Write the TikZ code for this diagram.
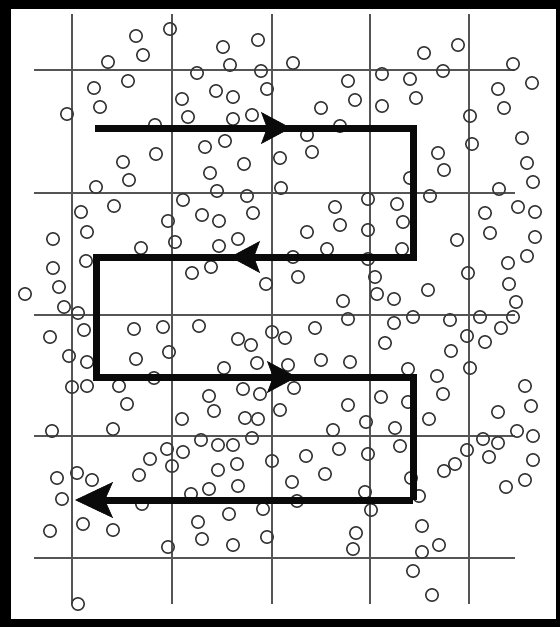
\documentclass[tikz,border=0pt]{standalone}
\usepackage{tikz}
\usetikzlibrary{arrows.meta}
\definecolor{Ink}{HTML}{0A0A0A}
\definecolor{Grid}{HTML}{555555}
\definecolor{Dot}{HTML}{383838}
\tikzset{
  gridline/.style={draw=Grid,line width=1.6pt},
  dot/.style={draw=Dot,line width=1.5pt},
  sweep/.style={draw=Ink,line width=7pt,line join=miter},
  sweeptip/.style={sweep,-{Stealth[length=30pt,width=32pt,inset=6pt,line width=0.5pt]}},
  endtip/.style={sweep,-{Stealth[length=38pt,width=36pt,inset=8pt,line width=0.5pt]}}
}

\begin{document}
\begin{tikzpicture}[x=1pt,y=-1pt]
  \fill[black] (0,0) rectangle (560,627);
  \fill[white] (11,9) rectangle (556,619);
  \foreach \gy in {70,193,315,436,558}
    \draw[gridline] (34,\gy) -- (515,\gy);
  \foreach \gx in {72,172,272,370,469}
    \draw[gridline] (\gx,14) -- (\gx,604);
  \foreach \cx/\cy in {
    136/36,143/55,170/29,108/62,128/81,94/88,100/107,67/114,155/125,156/154,
    123/162,129/180,96/187,114/206,81/212,183/200,168/221,197/73,216/91,233/97,
    223/47,230/65,258/40,261/71,267/89,182/99,188/117,233/119,252/115,205/147,
    225/141,244/164,210/173,217/191,247/196,253/213,202/215,219/221,280/158,281/188,
    293/63,348/81,355/100,382/74,410/79,416/98,382/106,321/108,340/126,307/135,
    312/152,424/53,458/45,443/71,513/64,532/83,498/89,504/108,470/116,472/144,
    522/138,438/153,444/170,527/163,533/182,410/178,430/196,499/189,368/199,397/204,
    335/207,485/213,518/207,535/212,
    87/232,53/239,53/268,59/287,25/294,64/307,78/313,84/330,50/337,69/356,
    87/362,72/387,87/386,86/261,141/248,175/242,238/239,219/246,211/267,192/273,
    266/284,134/329,163/327,199/326,169/352,136/359,154/378,119/386,127/404,238/339,
    251/345,257/363,272/332,224/368,243/389,260/394,209/396,214/411,182/419,245/418,
    258/419,285/338,288/365,294/388,280/410,293/257,298/277,
    307/232,340/225,368/230,403/222,327/249,402/249,368/259,375/277,377/294,394/299,
    343/301,348/319,428/290,413/317,394/323,450/320,385/343,315/328,321/360,350/362,
    451/351,467/336,480/317,485/342,501/328,513/317,516/302,509/284,508/263,527/256,
    535/237,490/233,457/240,468/273,470/368,437/376,443/394,408/369,381/397,408/402,
    348/405,525/386,531/406,498/412,429/419,
    52/431,113/429,252/438,201/440,218/445,233/445,237/464,272/461,167/449,183/452,
    150/459,172/466,139/475,218/470,238/486,209/489,191/494,142/504,229/514,263/509,
    267/537,198/522,202/539,233/545,168/547,113/530,83/524,50/531,57/478,77/473,
    92/480,62/499,78/604,
    366/422,333/430,395/428,339/449,368/454,400/446,306/456,325/474,292/482,297/501,
    365/492,411/478,419/496,371/510,517/431,533/436,498/443,483/439,489/457,467/450,
    455/464,444/471,533/460,525/480,506/487,422/526,356/533,353/549,422/552,439/545,
    413/571,432/595}
    \draw[dot] (\cx,\cy) circle[radius=6.2pt];
  \coordinate (p0) at (95,128);
  \coordinate (p1) at (413,128);
  \coordinate (p2) at (413,257);
  \coordinate (p3) at (96,257);
  \coordinate (p4) at (96,377);
  \coordinate (p5) at (413,377);
  \coordinate (p6) at (413,500);
  \coordinate (p7) at (75,500);
  \coordinate (t1) at (291,128);
  \coordinate (t2) at (230,257);
  \coordinate (t3) at (297,377);
  \draw[sweep] (p0) -- (p1) -- (p2) -- (p3) -- (p4) -- (p5) -- (p6);
  \draw[sweeptip] (p0) -- (t1);
  \draw[sweeptip] (p2) -- (t2);
  \draw[sweeptip] (p4) -- (t3);
  \draw[endtip] (p6) -- (p7);
\end{tikzpicture}
\end{document}
